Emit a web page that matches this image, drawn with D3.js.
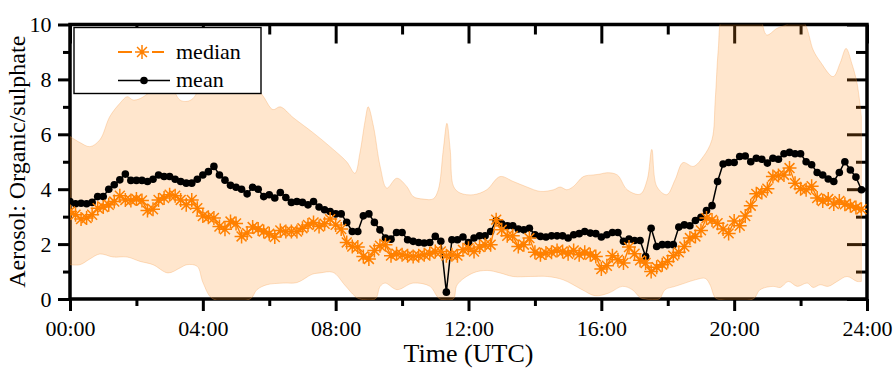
<!DOCTYPE html>
<html>
<head>
<meta charset="utf-8">
<script src="https://cdn.jsdelivr.net/npm/d3@7"></script>
<style>
  body { margin: 0; background: #fff; }
  svg { display: block; }
</style>
</head>
<body>
<svg id="chart" width="894" height="370"></svg>
<script>
// Organic/sulphate ratio, 10-minute bins over one day (00:00 ... 23:50)
const meanRatio = [
  3.55,3.47,3.49,3.47,3.52,3.73,3.73,4.00,4.16,4.34,
  4.55,4.32,4.32,4.32,4.28,4.36,4.52,4.46,4.46,4.36,
  4.28,4.22,4.22,4.36,4.52,4.64,4.83,4.52,4.33,4.14,
  4.07,4.00,3.83,4.07,4.00,3.73,3.80,3.68,3.88,3.70,
  3.52,3.55,3.52,3.43,3.55,3.35,3.25,3.19,3.10,3.10,
  2.79,2.46,2.46,3.03,3.10,2.79,2.52,2.22,2.18,2.42,
  2.42,2.16,2.10,2.06,2.04,2.06,2.28,2.10,0.25,2.16,
  2.16,2.26,2.06,2.22,2.30,2.30,2.46,2.86,2.74,2.67,
  2.67,2.55,2.52,2.58,2.34,2.28,2.26,2.30,2.30,2.30,
  2.22,2.34,2.38,2.46,2.40,2.38,2.26,2.34,2.42,2.42,
  2.10,2.18,2.13,2.13,1.55,2.58,1.91,1.98,1.98,1.98,
  2.62,2.70,2.67,2.86,2.98,3.22,3.40,4.28,4.92,4.97,
  4.97,5.19,5.21,5.00,5.13,5.09,4.95,5.13,5.09,5.29,
  5.34,5.29,5.29,5.00,4.89,4.61,4.52,4.37,4.28,4.61,
  5.00,4.70,4.44,3.98
];

const medianRatio = [
  3.19,3.07,2.91,2.95,3.07,3.31,3.35,3.43,3.55,3.76,
  3.61,3.59,3.64,3.59,3.22,3.27,3.61,3.68,3.80,3.76,
  3.61,3.43,3.61,3.31,3.02,2.98,2.95,2.64,2.54,2.82,
  2.75,2.28,2.40,2.62,2.55,2.46,2.38,2.26,2.50,2.46,
  2.46,2.46,2.58,2.70,2.79,2.64,2.74,2.91,2.70,2.55,
  2.06,1.91,1.89,1.55,1.46,1.77,1.94,1.98,1.58,1.65,
  1.61,1.58,1.55,1.58,1.61,1.65,1.73,1.73,1.58,1.61,
  1.58,1.79,1.85,1.73,1.89,1.98,1.98,2.89,2.52,2.30,
  2.30,1.91,1.98,2.22,1.70,1.61,1.68,1.70,1.77,1.73,
  1.65,1.77,1.61,1.70,1.61,1.55,1.09,1.21,1.58,1.43,
  1.31,1.89,1.65,1.41,1.31,1.00,1.16,1.25,1.37,1.58,
  1.70,1.91,2.22,2.28,2.50,2.95,2.88,2.76,2.55,2.39,
  2.84,2.67,3.02,3.40,3.83,3.88,4.02,4.46,4.50,4.52,
  4.77,4.22,4.02,3.98,4.11,3.68,3.57,3.64,3.46,3.57,
  3.45,3.40,3.33,3.27
];

// Spread envelope (upper and lower edges, each with its own time stamps in hours)
const bandUpperHours = [
  0,0.30,0.60,0.90,1.20,1.51,1.72,1.90,2.11,2.41,
  2.71,3.01,3.31,3.52,3.70,3.92,4.37,4.97,5.42,5.81,
  6.11,6.33,6.73,7.33,7.83,8.33,8.58,8.73,8.89,8.98,
  9.14,9.34,9.54,9.84,10.14,10.34,10.64,10.94,11.09,11.24,
  11.35,11.45,11.55,11.75,12.15,12.55,12.95,13.35,13.76,14.16,
  14.56,14.76,14.96,15.16,15.46,15.76,15.96,16.17,16.48,16.78,
  17.17,17.38,17.52,17.67,17.97,18.22,18.46,18.77,19.07,19.33,
  19.43,19.52,19.64,20.03,20.48,20.78,20.98,21.29,21.59,21.89,
  22.14,22.38,22.59,22.98,23.19,23.37,23.54,23.70,23.83
];
const bandUpper = [
  5.92,5.70,5.55,5.80,6.65,7.14,7.37,7.25,7.30,7.55,
  7.90,7.80,7.25,7.20,7.30,7.70,8.20,8.30,8.00,7.40,
  6.90,7.00,6.60,6.05,5.55,5.00,4.58,5.32,6.52,7.00,
  6.28,4.83,4.04,4.40,4.10,3.73,3.64,3.65,3.98,5.43,
  6.40,5.43,4.10,3.86,3.80,3.98,4.46,4.28,4.08,3.92,
  3.98,4.08,3.98,4.10,4.46,4.52,4.55,4.60,4.52,3.98,
  3.82,4.34,5.45,4.10,3.80,4.34,4.97,4.83,5.19,5.80,
  7.25,9.07,10.30,10.80,10.80,10.30,9.62,9.86,10.00,10.30,
  10.00,9.07,8.65,8.10,8.59,9.13,8.59,7.86,6.65
];
const bandLowerHours = [
  0,0.30,0.60,0.90,1.30,1.72,2.11,2.50,2.95,3.31,
  3.52,3.83,4.01,4.31,5.42,5.63,5.93,6.42,6.84,7.29,
  7.53,7.92,8.28,8.58,8.73,9.19,9.34,9.49,9.85,10.33,
  10.84,11.05,11.14,11.54,11.66,12.14,12.56,12.95,13.34,13.86,
  14.37,14.85,15.42,15.81,16.23,16.63,16.93,17.17,17.32,17.74,
  17.92,18.22,18.52,18.83,19.13,19.28,19.40,19.49,20.57,20.78,
  21.17,21.39,21.63,21.90,22.20,22.38,22.59,22.83,23.10,23.40,
  23.70,23.83
];
const bandLower = [
  1.25,1.25,1.46,1.64,1.53,1.53,1.37,1.25,0.95,1.13,
  1.25,1.19,0.58,0.00,0.00,0.34,0.52,0.58,0.60,0.90,
  0.95,0.97,0.50,0.10,0.00,0.00,0.46,0.58,0.34,0.58,
  0.46,0.10,0.00,0.00,0.52,0.95,1.04,0.95,0.82,0.82,
  0.82,0.70,0.34,0.12,0.22,0.46,0.34,0.05,0.00,0.00,
  0.34,0.46,0.58,0.70,0.75,0.50,0.10,0.00,0.00,0.34,
  0.46,0.42,0.64,0.46,0.58,0.42,0.52,0.46,0.64,0.82,
  0.64,0.64
];

const xMajorHours = [0, 4, 8, 12, 16, 20, 24];
const xMajorLabels = ["00:00", "04:00", "08:00", "12:00", "16:00", "20:00", "24:00"];
const xMinorHours = [2, 6, 10, 14, 18, 22];
const yMajorTicks = [0, 2, 4, 6, 8, 10];
const yMinorTicks = [1, 3, 5, 7, 9];
const seriesNames = ["median", "mean"];
const xTitle = "Time (UTC)";
const yTitle = "Aerosol: Organic/sulphate";

const stepHours = 10 / 60;
const serif = "'Liberation Serif', 'Times New Roman', serif";
const orange = "#ff8000";

const svg = d3.select("#chart");
const x = d3.scaleLinear().domain([0, 24]).range([70, 867]);
const y = d3.scaleLinear().domain([0, 10]).range([299, 24.5]);

function styleAxis(g, labelled) {
  g.select(".domain").remove();
  g.selectAll(".tick line").attr("stroke", "#000").attr("stroke-width", 3);
  g.attr("font-family", serif).attr("font-size", 22);
  if (!labelled) g.selectAll(".tick text").remove();
  else g.selectAll(".tick text").attr("fill", "#000");
}

// bottom axis: outward ticks with labels
svg.append("g").attr("transform", `translate(0,${y(0)})`)
  .call(d3.axisBottom(x).tickValues(xMajorHours)
    .tickFormat((d, i) => xMajorLabels[i]).tickSize(12).tickPadding(9.5))
  .call(g => styleAxis(g, true));
svg.append("g").attr("transform", `translate(0,${y(0)})`)
  .call(d3.axisBottom(x).tickValues(xMinorHours).tickSize(7).tickFormat(""))
  .call(g => styleAxis(g, false));

// top axis: inward ticks
svg.append("g").attr("transform", `translate(0,${y(10)})`)
  .call(d3.axisBottom(x).tickValues(xMajorHours).tickSize(19).tickFormat(""))
  .call(g => styleAxis(g, false));
svg.append("g").attr("transform", `translate(0,${y(10)})`)
  .call(d3.axisBottom(x).tickValues(xMinorHours).tickSize(10).tickFormat(""))
  .call(g => styleAxis(g, false));

// left axis: outward ticks with labels
svg.append("g").attr("transform", `translate(${x(0)},0)`)
  .call(d3.axisLeft(y).tickValues(yMajorTicks).tickFormat(d3.format("d"))
    .tickSize(12).tickPadding(6.5))
  .call(g => styleAxis(g, true));
svg.append("g").attr("transform", `translate(${x(0)},0)`)
  .call(d3.axisLeft(y).tickValues(yMinorTicks).tickSize(7).tickFormat(""))
  .call(g => styleAxis(g, false));

// right axis: inward ticks
svg.append("g").attr("transform", `translate(${x(24)},0)`)
  .call(d3.axisLeft(y).tickValues(yMajorTicks).tickSize(20).tickFormat(""))
  .call(g => styleAxis(g, false));
svg.append("g").attr("transform", `translate(${x(24)},0)`)
  .call(d3.axisLeft(y).tickValues(yMinorTicks).tickSize(11).tickFormat(""))
  .call(g => styleAxis(g, false));

// frame
svg.append("rect")
  .attr("x", x(0)).attr("y", y(10))
  .attr("width", x(24) - x(0)).attr("height", y(0) - y(10))
  .attr("fill", "none").attr("stroke", "#000").attr("stroke-width", 3.5);

// axis titles
svg.append("text")
  .attr("x", (x(0) + x(24)) / 2).attr("y", 362)
  .attr("text-anchor", "middle")
  .attr("font-family", serif).attr("font-size", 26)
  .text(xTitle);
svg.append("text")
  .attr("transform", `translate(25,${(y(0) + y(10)) / 2}) rotate(-90)`)
  .attr("text-anchor", "middle")
  .attr("font-family", serif).attr("font-size", 24)
  .text(yTitle);

// clip for plotted data
svg.append("clipPath").attr("id", "plot-clip")
  .append("rect")
  .attr("x", x(0)).attr("y", y(10))
  .attr("width", x(24) - x(0)).attr("height", y(0) - y(10) + 1);

const plot = svg.append("g").attr("clip-path", "url(#plot-clip)");

// envelope: semi-transparent so the frame shows through it
const edge = d3.line().x(d => x(d[0])).y(d => y(d[1])).curve(d3.curveCatmullRom.alpha(0.5));
const upperPts = bandUpperHours.map((h, i) => [h, bandUpper[i]]);
const lowerPts = bandLowerHours.map((h, i) => [h, bandLower[i]]).reverse();
const bandPath = edge(upperPts) + "L" + edge(lowerPts).slice(1) + "Z";
plot.append("path")
  .attr("d", bandPath)
  .attr("fill", "#ff8c1a").attr("fill-opacity", 0.22)
  .attr("stroke", "#f59a4a").attr("stroke-opacity", 0.3).attr("stroke-width", 1);

const meanPts = meanRatio.map((v, i) => [i * stepHours, v]);
const medianPts = medianRatio.map((v, i) => [i * stepHours, v]);
const straight = d3.line().x(d => x(d[0])).y(d => y(d[1]));

// mean: black line with filled dots
plot.append("path").attr("d", straight(meanPts))
  .attr("fill", "none").attr("stroke", "#000").attr("stroke-width", 1.5);
plot.append("g").selectAll("circle").data(meanPts).join("circle")
  .attr("cx", d => x(d[0])).attr("cy", d => y(d[1])).attr("r", 3.8)
  .attr("fill", "#000");

// median: orange line with asterisk markers
function asterisk(r) {
  const a = r * Math.SQRT1_2;
  return `M${-r},0L${r},0M0,${-r}L0,${r}M${-a},${-a}L${a},${a}M${-a},${a}L${a},${-a}`;
}
plot.append("path").attr("d", straight(medianPts))
  .attr("fill", "none").attr("stroke", orange).attr("stroke-width", 1.4);
plot.append("g").selectAll("path").data(medianPts).join("path")
  .attr("transform", d => `translate(${x(d[0])},${y(d[1])})`)
  .attr("d", asterisk(7))
  .attr("fill", "none").attr("stroke", orange).attr("stroke-width", 1.5);

// legend
const legend = svg.append("g");
legend.append("rect")
  .attr("x", 74).attr("y", 27.5).attr("width", 187).attr("height", 66)
  .attr("fill", "#fff").attr("stroke", "#000").attr("stroke-width", 1.4);
// median sample
legend.append("line").attr("x1", 118).attr("x2", 132).attr("y1", 52).attr("y2", 52)
  .attr("stroke", orange).attr("stroke-width", 2);
legend.append("line").attr("x1", 152).attr("x2", 164).attr("y1", 52).attr("y2", 52)
  .attr("stroke", orange).attr("stroke-width", 2);
legend.append("path").attr("transform", "translate(142,52)").attr("d", asterisk(7))
  .attr("fill", "none").attr("stroke", orange).attr("stroke-width", 1.5);
// mean sample
legend.append("line").attr("x1", 118).attr("x2", 170).attr("y1", 80.5).attr("y2", 80.5)
  .attr("stroke", "#000").attr("stroke-width", 1.5);
legend.append("circle").attr("cx", 144).attr("cy", 80.5).attr("r", 3.8).attr("fill", "#000");
legend.selectAll("text.lbl").data(seriesNames).join("text")
  .attr("class", "lbl")
  .attr("x", 176).attr("y", (d, i) => [59, 87][i])
  .attr("font-family", serif).attr("font-size", 22)
  .text(d => d);
</script>
</body>
</html>
